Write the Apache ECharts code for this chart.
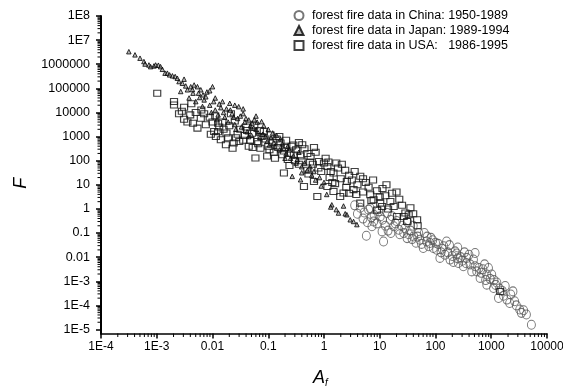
<!DOCTYPE html>
<html><head><meta charset="utf-8">
<script src="https://cdn.jsdelivr.net/npm/echarts@6/dist/echarts.min.js"></script>
<style>html,body{margin:0;padding:0;background:#fff}#c{width:563px;height:390px}</style>
</head><body><div id="c"></div>
<script>
// tick labels by decade exponent
const xTickLabels = ['1E-4','1E-3','0.01','0.1','1','10','100','1000','10000']; // 1e-4 .. 1e4
const yTickLabels = ['1E-5','1E-4','1E-3','0.01','0.1','1','10','100','1000','10000','100000','1000000','1E7','1E8']; // 1e-5 .. 1e8
const seriesNames = ['forest fire data in China: 1950-1989','forest fire data in Japan: 1989-1994','forest fire data in USA:   1986-1995'];

// [A_f, F]
const chinaData = [
[5.75,7.76e-2],[7.24,0.191],[7.76,0.302],[11.0,0.117],[11.7,4.47e-2],[10.2,0.490],[13.5,0.676],[15.5,0.355],
[17.8,0.191],[21.9,0.138],[26.9,0.100],[30.9,6.17e-2],[40.7,7.24e-2],[60.3,2.40e-2],[79.4,3.89e-2],[105,2.04e-2],
[120,9.33e-3],[158,4.47e-2],[148,1.26e-2],[182,7.94e-3],[224,1.74e-2],[257,5.75e-3],[316,4.17e-3],[363,9.33e-3],
[513,1.48e-2],[513,4.17e-3],[550,2.57e-3],[631,1.38e-3],[832,1.91e-3],[1020,1.91e-3],[832,7.24e-4],[1100,5.25e-4],
[1350,2.04e-4],[1910,1.74e-4],[2450,3.80e-4],[2630,1.48e-4],[3240,6.76e-5],[4270,4.17e-5],[5250,1.58e-5],[3470,4.90e-5],
[2140,1.26e-4],[447,2.57e-3],[69.2,4.47e-2],[52.5,5.25e-2],[91.2,2.40e-2],[6.31,0.933],[6.76,1.07],[7.94,0.562],
[5.01,0.398],[8.91,0.251],[12.6,0.200],[15.8,0.100],[20.0,0.316],[25.1,0.200],[35.5,0.126],[44.7,3.98e-2],
[50.1,0.100],[70.8,7.08e-2],[89.1,5.01e-2],[112,3.55e-2],[126,1.58e-2],[200,1.12e-2],[251,2.51e-2],[282,1.00e-2],
[355,5.62e-3],[398,1.26e-2],[708,3.16e-3],[891,3.55e-3],[1120,1.12e-3],[1260,8.91e-4],[1580,3.98e-4],[1780,6.31e-4],
[794,1.12e-3],[251,8.91e-3],[141,2.82e-2],[39.8,0.200],[31.6,0.282],[3.98,0.631],[3.55,1.41],[4.47,1.12],
[5.25,0.708],[6.03,0.282],[7.08,0.447],[9.55,0.794],[11.2,0.355],[14.1,0.126],[16.6,0.501],[19.1,0.251],
[22.9,8.91e-2],[28.2,0.158],[33.1,8.91e-2],[38.0,5.62e-2],[47.9,7.08e-2],[56.2,3.55e-2],[63.1,0.100],[75.9,2.82e-2],
[83.2,6.31e-2],[100,3.98e-2],[132,2.24e-2],[166,1.58e-2],[178,3.16e-2],[209,6.31e-3],[240,1.41e-2],[302,7.08e-3],
[331,1.58e-2],[417,5.01e-3],[479,7.94e-3],[603,3.55e-3],[661,2.24e-3],[759,5.01e-3],[955,1.26e-3],[1200,7.08e-4],
[1410,5.01e-4],[1660,2.51e-4],[2240,2.82e-4],[2820,1.00e-4],[3800,6.31e-5]
];
const japanData = [
[3.16e-4,3.31e6],[4.07e-4,2.45e6],[5.01e-4,1.78e6],[5.89e-4,1.29e6],[6.17e-4,1.02e6],[7.24e-4,9.33e5],[7.76e-4,7.94e5],[8.91e-4,8.51e5],
[9.55e-4,9.33e5],[1.07e-3,9.12e5],[1.17e-3,7.94e5],[1.26e-3,6.17e5],[1.41e-3,4.27e5],[1.55e-3,4.27e5],[1.70e-3,3.63e5],[1.91e-3,3.31e5],
[2.14e-3,3.09e5],[2.34e-3,2.63e5],[2.51e-3,1.91e5],[3.09e-3,2.40e5],[2.88e-3,1.62e5],[2.69e-3,7.41e4],[3.55e-3,8.71e4],[4.07e-3,1.17e5],
[4.68e-3,1.38e5],[5.37e-3,1.17e5],[6.17e-3,8.71e4],[6.76e-3,5.37e4],[1.00e-2,1.17e5],[1.51e-2,2.82e4],[2.04e-2,2.40e4],[2.95e-2,1.74e4],
[4.47e-2,4.90e3],[5.13e-2,3.63e3],[5.50e-2,2.24e3],[5.89e-3,4.17e4],[7.08e-3,3.31e4],[8.91e-3,2.00e4],[1.12e-2,1.26e4],[1.26e-2,7.94e3],
[1.41e-2,1.58e4],[1.66e-2,6.31e3],[1.91e-2,3.98e3],[2.24e-2,8.91e3],[2.51e-2,3.16e3],[2.82e-2,5.62e3],[3.31e-2,2.51e3],[3.80e-2,3.98e3],
[4.17e-2,1.58e3],[5.01e-2,1.12e3],[6.03e-2,2.00e3],[7.08e-2,891],[7.94e-2,1.26e3],[9.55e-2,631],[0.112,891],[0.132,398],
[0.158,282],[0.178,501],[0.209,200],[0.251,126],[0.269,22.4],[0.380,16.2],[0.316,79.4],[0.398,56.2],
[0.501,39.8],[0.603,25.1],[0.708,15.8],[0.891,8.91],[1.12,3.98],[1.38,1.48],[1.32,1.20],[1.66,0.933],
[1.82,0.676],[2.24,1.32],[2.40,0.631],[2.57,0.575],[2.95,0.355],[3.39,0.302],[3.89,0.224],[3.80e-3,3.98e4],
[4.47e-3,6.31e4],[7.94e-3,7.08e4],[1.12e-2,3.98e4],[1.78e-2,1.41e4],[3.55e-2,8.91e3],[6.31e-2,3.98e3],[0.100,2.00e3],[0.141,1.12e3],
[0.224,398],[0.355,224],
[3.31e-3,1.26e5],[4.37e-3,8.91e4],[5.62e-3,6.31e4],[7.59e-3,4.47e4],[8.91e-3,7.94e4],[1.05e-2,2.82e4],[1.32e-2,2.24e4],[1.58e-2,1.00e4],
[2.09e-2,1.26e4],[2.40e-2,6.31e3],[3.16e-2,7.08e3],[3.98e-2,5.62e3],[4.79e-2,2.82e3],[5.62e-2,5.01e3],[6.61e-2,1.41e3],[8.32e-2,2.82e3],
[8.91e-2,1.00e3],[0.120,1.41e3],[0.126,562],[0.166,794],[0.191,316],[0.240,282],[0.282,158],[0.331,112],
[0.447,79.4],[0.562,56.2],[0.661,35.5],[0.832,20.0],[1.00,12.6],[2.51e-2,2.00e4],[3.55e-2,1.41e4],[6.03e-2,7.08e3],
[7.59e-2,4.17e3],
[5.01e-3,2.82e4],[6.61e-3,1.78e4],[9.55e-3,1.00e4],[1.20e-2,5.01e3],[2.63e-2,2.00e3],[4.47e-2,1.00e3],[0.105,447],[0.200,126],
[0.398,31.6]
];
const usaData = [
[1.02e-3,6.31e4],[2.04e-3,2.82e4],[2.04e-3,2.04e4],[3.09e-3,1.66e4],[3.09e-3,5.25e3],[4.17e-3,2.29e4],[5.37e-3,2.24e3],[6.17e-3,5.75e3],
[7.59e-3,3.09e3],[9.33e-3,1.26e3],[1.07e-2,1.62e3],[1.15e-2,1.00e3],[1.41e-2,741],[1.74e-2,457],[2.14e-2,8.91e3],[2.29e-2,331],
[2.40e-2,537],[5.13e-2,1.38e3],[8.32e-2,1.62e3],[6.31e-2,631],[7.24e-2,331],[0.110,1.17e3],[0.166,537],[0.407,457],
[0.251,204],[0.288,174],[0.575,148],[0.813,93.3],[1.15,57.5],[0.661,13.8],[1.15,8.51],[1.48,5.25],
[5.89e-2,129],[0.191,30.9],[0.437,8.51],[0.759,3.31],[1.00,79.4],[1.48,30.9],[2.57,13.8],[3.39,6.31],
[6.76,3.89],[7.76,2.40],[11.0,1.26],[15.5,2.04],[20.4,0.490],[28.8,0.676],[30.9,0.302],[1.95,3.31],
[2.24,4.57],[4.47,1.74],[10.2,1.74],[26.9,0.490],[33.1,0.575],[46.8,0.355],[47.9,0.200],[6.31e-3,1.26e4],
[8.91e-3,6.31e3],[1.26e-2,3.55e3],[1.58e-2,2.00e3],[2.82e-2,1.26e3],[3.55e-2,708],[4.47e-2,398],[3.98e-2,2.51e3],[0.100,398],
[0.126,224],[0.141,794],[0.200,355],[0.224,112],[0.316,282],[0.355,70.8],[0.501,200],[0.501,39.8],
[0.631,70.8],[0.891,35.5],[1.26,20.0],[1.58,11.2],[1.78,50.1],[2.51,7.94],[2.82,25.1],[3.98,10.0],
[5.01,5.01],[5.62,12.6],[8.91,5.62],[12.6,3.55],[17.8,1.26],[22.4,2.51],[8.91,0.891],[1450,3.80e-4],
[2.51e-3,8.91e3],[4.47e-3,3.55e3],
[3.98e-3,7.94e3],[5.01e-3,1.00e4],[7.08e-3,8.91e3],[1.00e-2,3.98e3],[1.32e-2,2.51e3],[1.78e-2,1.41e3],[2.00e-2,2.82e3],[2.63e-2,891],
[3.16e-2,2.00e3],[3.80e-2,1.12e3],[4.79e-2,708],[5.62e-2,2.82e3],[6.61e-2,501],[8.91e-2,794],[0.105,282],[0.120,562],
[0.151,355],[0.178,178],[0.209,708],[0.263,398],[0.302,100],[0.380,158],[0.447,316],[0.562,89.1],
[0.708,224],[0.794,50.1],[1.07,126],[1.32,35.5],[1.66,79.4],[2.00,17.8],[2.40,39.8],[3.16,15.8],
[3.80,3.98],[4.47,22.4],[6.31,7.94],[7.59,15.8],[10.0,3.16],[11.2,7.08],[14.1,1.00],[16.6,4.47],
[25.1,1.41],[35.5,1.12],[39.8,0.631],[2.82e-3,1.12e4],[3.55e-3,3.98e3],[1.12e-2,7.08e3],[2.51e-2,4.47e3],[7.08e-2,1.78e3],
[0.158,1.00e3],[0.355,562],
[1.26e-2,1.58e3],[1.51e-2,3.98e3],[1.91e-2,891],[3.02e-2,631],[4.17e-2,1.78e3],[5.25e-2,355],[7.59e-2,1.00e3],[9.55e-2,158],
[0.132,126],[0.191,251],[0.240,63.1],[0.282,447],[0.398,100],[0.525,28.2],[0.661,355],[1.20,89.1],
[1.41,12.6],[2.09,70.8],[2.82,4.47],[3.55,35.5],[5.01,17.8],[7.08,2.24],[13.2,10.0],[20.0,5.01]
];

// minor tick positions (2..9 within each decade) for the log axes
const xMinorTicks = [], yMinorTicks = [];
for (let n = -4; n < 4; n++) for (let k = 2; k <= 9; k++) xMinorTicks.push(k * Math.pow(10, n));
for (let n = -5; n < 8; n++) for (let k = 2; k <= 9; k++) yMinorTicks.push(k * Math.pow(10, n));

const font = 'Arial, "Liberation Sans", sans-serif';
const chart = echarts.init(document.getElementById('c'), null, {renderer: 'canvas'});
const mkScatter = (name, data, symbol, size, fill, border, bw) => ({
  type: 'scatter', name, data, symbol, symbolSize: size,
  itemStyle: {color: fill, borderColor: border, borderWidth: bw},
  emphasis: {disabled: true}
});
const X_OFFSET = 4;
chart.setOption({
  animation: false,
  backgroundColor: '#fff',
  grid: {left: 101, right: 16, top: 16, bottom: 60.5, outerBoundsMode: 'none'},
  legend: {
    orient: 'vertical', left: 288.5, top: 4, itemWidth: 9, itemHeight: 9, itemGap: 2,
    textStyle: {fontSize: 12.5, fontFamily: font, color: '#000', padding: [0, 0, 0, 3.5]},
    data: seriesNames
  },
  xAxis: {
    type: 'log', logBase: 10, min: 1e-4, max: 1e4, interval: 1, position: 'bottom', offset: X_OFFSET,
    axisLine: {onZero: false, lineStyle: {color: '#000', width: 1.5}},
    axisTick: {length: 5, lineStyle: {color: '#000', width: 1.5}},
    splitLine: {show: false},
    axisLabel: {color: '#000', fontSize: 12, fontFamily: font, margin: 7,
      formatter: v => xTickLabels[Math.round(Math.log10(v)) + 4]},
    name: '{a|A}{b|f}', nameLocation: 'middle', nameGap: 33,
    nameTextStyle: {rich: {
      a: {fontSize: 18, fontStyle: 'italic', fontFamily: font, color: '#000'},
      b: {fontSize: 10, fontStyle: 'italic', fontFamily: font, color: '#000', padding: [12, 7, 0, 0]}
    }}
  },
  yAxis: {
    type: 'log', logBase: 10, min: 1e-5, max: 1e8, interval: 1, position: 'left',
    axisLine: {onZero: false, lineStyle: {color: '#000', width: 2}},
    axisTick: {length: 5, lineStyle: {color: '#000', width: 1.5}},
    splitLine: {show: false},
    axisLabel: {color: '#000', fontSize: 12.5, fontFamily: font, margin: 11,
      formatter: v => yTickLabels[Math.round(Math.log10(v)) + 5]},
    name: 'F', nameLocation: 'middle', nameGap: 71, nameRotate: 90,
    nameTextStyle: {fontSize: 18, fontStyle: 'italic', fontFamily: font, color: '#000', align: 'right', padding: [0, 5, 0, 0]}
  },
  graphic: [{type: 'line', shape: {x1: 101, y1: 329, x2: 101, y2: 334.5}, style: {stroke: '#000', lineWidth: 2}}],
  series: [
    mkScatter(seriesNames[0], chinaData, 'circle', [8, 9], 'rgba(255,255,255,0)', '#555', 1),
    mkScatter(seriesNames[1], japanData, 'triangle', 4.5, 'rgba(110,110,110,0.6)', '#000', 1),
    mkScatter(seriesNames[2], usaData, 'rect', [7, 6], 'rgba(255,255,255,0)', '#111', 1.1),
    {
      type: 'custom', name: 'x minor ticks', silent: true, clip: false,
      data: xMinorTicks.map(v => [v, 1e-5]),
      renderItem: (params, api) => {
        const p = api.coord([api.value(0), api.value(1)]);
        return {type: 'line', shape: {x1: p[0], y1: p[1] + X_OFFSET, x2: p[0], y2: p[1] + X_OFFSET + 3.5},
                style: {stroke: '#000', lineWidth: 1}};
      }
    },
    {
      type: 'custom', name: 'y minor ticks', silent: true, clip: false,
      data: yMinorTicks.map(v => [1e-4, v]),
      renderItem: (params, api) => {
        const p = api.coord([api.value(0), api.value(1)]);
        return {type: 'line', shape: {x1: p[0] - 3.5, y1: p[1], x2: p[0], y2: p[1]},
                style: {stroke: '#000', lineWidth: 1}};
      }
    }
  ]
});
</script></body></html>
